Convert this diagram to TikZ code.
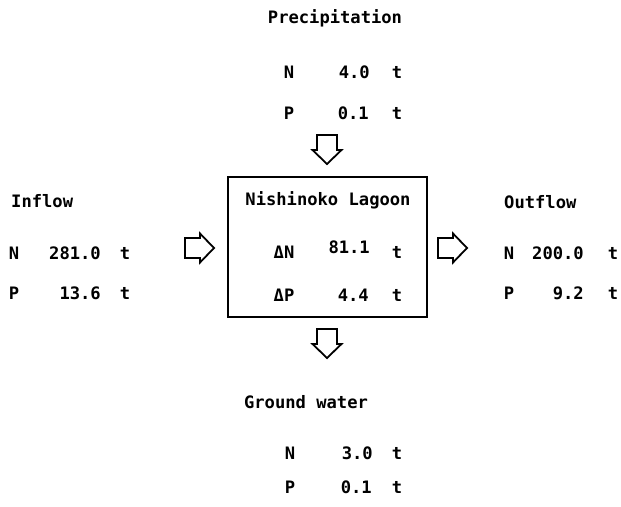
\documentclass[tikz,border=0pt]{standalone}
\usepackage{fontspec}
\setmonofont{DejaVu Sans Mono}
\begin{document}
\begin{tikzpicture}[x=1bp, y=-1bp, every node/.style={font=\fontsize{17.2}{19}\ttfamily\bfseries, inner sep=0pt},
    lbl/.style={anchor=center},
    val/.style={anchor=east},
    blockarrow/.pic={\draw[line width=1.8bp, line join=miter, fill=white]
        (0,-10) -- (15,-10) -- (15,-14.5) -- (29,0) -- (15,14.5) -- (15,10) -- (0,10) -- cycle;}]
    \useasboundingbox (0,0) rectangle (621,507);

    % Niederschlag oben
    \node (prec) at (335,18) {Precipitation};
    \node[lbl] (precN) at (289,72) {N};
    \node[val] (precNv) at (370,72) {4.0};
    \node[lbl] (precNt) at (397,72) {t};
    \node[lbl] (precP) at (289,113) {P};
    \node[val] (precPv) at (369,113) {0.1};
    \node[lbl] (precPt) at (397,113) {t};

    % Lagune
    \draw[line width=1.8bp] (228,177) rectangle (427,317);
    \node (lagoon) at (328,200) {Nishinoko Lagoon};
    \node[lbl] (dN) at (284,252) {ΔN};
    \node[val] (dNv) at (370,247) {81.1};
    \node[lbl] (dNt) at (397,252) {t};
    \node[lbl] (dP) at (284,295) {ΔP};
    \node[val] (dPv) at (369,295) {4.4};
    \node[lbl] (dPt) at (397,295) {t};

    % Zufluss links
    \node[anchor=west] (inflow) at (11,201) {Inflow};
    \node[lbl] (inN) at (14,253) {N};
    \node[val] (inNv) at (101,253) {281.0};
    \node[lbl] (inNt) at (125,253) {t};
    \node[lbl] (inP) at (14,293) {P};
    \node[val] (inPv) at (101,293) {13.6};
    \node[lbl] (inPt) at (125,293) {t};

    % Abfluss rechts
    \node[anchor=west] (outflow) at (504,202) {Outflow};
    \node[lbl] (outN) at (509,253) {N};
    \node[val] (outNv) at (584,253) {200.0};
    \node[lbl] (outNt) at (613,253) {t};
    \node[lbl] (outP) at (509,293) {P};
    \node[val] (outPv) at (584,293) {9.2};
    \node[lbl] (outPt) at (613,293) {t};

    % Grundwasser unten
    \node (ground) at (306,402) {Ground water};
    \node[lbl] (grN) at (290,453) {N};
    \node[val] (grNv) at (373,453) {3.0};
    \node[lbl] (grNt) at (397,453) {t};
    \node[lbl] (grP) at (290,487) {P};
    \node[val] (grPv) at (372,487) {0.1};
    \node[lbl] (grPt) at (397,487) {t};

    % Pfeile
    \pic[rotate=-90] at (327,135) {blockarrow};
    \pic[rotate=-90] at (327,329) {blockarrow};
    \pic at (185,248) {blockarrow};
    \pic at (438,248) {blockarrow};
\end{tikzpicture}
\end{document}
